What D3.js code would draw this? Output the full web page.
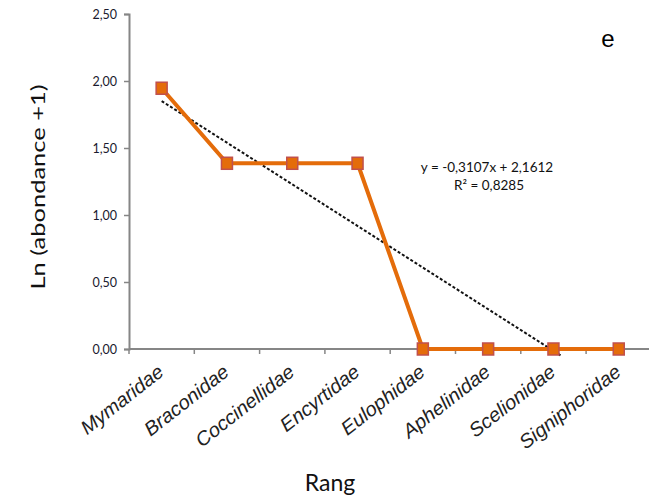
<!DOCTYPE html>
<html>
<head>
<meta charset="utf-8">
<script src="https://cdn.jsdelivr.net/npm/d3@7"></script>
<style>
  body { margin: 0; background: #fff; }
  svg { display: block; }
</style>
</head>
<body>
<div id="chart"></div>
<script>
// data
var families = ["Mymaridae", "Braconidae", "Coccinellidae", "Encyrtidae",
                "Eulophidae", "Aphelinidae", "Scelionidae", "Signiphoridae"];
var lnAbundance = [1.946, 1.386, 1.386, 1.386, 0, 0, 0, 0];
var yTicks = [0, 0.5, 1, 1.5, 2, 2.5];
var trendSlope = -0.3107, trendIntercept = 2.1612;
var trendLabel = "y = -0,3107x + 2,1612";
var r2Label = "R\u00b2 = 0,8285";

var W = 649, H = 498;
var margin = {top: 14, left: 129};
var plotH = 335;
var stretch = 1.15; // the source picture looks a bit stretched sideways

var svg = d3.select("#chart").append("svg")
  .attr("width", W)
  .attr("height", H);

var x = d3.scaleBand()
  .domain(families)
  .range([margin.left, margin.left + 8 * 65.3]);

var y = d3.scaleLinear()
  .domain([0, 2.5])
  .range([margin.top + plotH, margin.top]);

var fmt = function(v) { return d3.format(".2f")(v).replace(".", ","); };

// y axis
var yAxis = svg.append("g")
  .attr("transform", "translate(" + margin.left + ",0)")
  .call(d3.axisLeft(y).tickValues(yTicks).tickFormat(fmt).tickSize(5).tickPadding(7));
yAxis.select(".domain").attr("stroke", "#868686").attr("stroke-width", 2);
yAxis.selectAll(".tick line").attr("stroke", "#868686").attr("stroke-width", 1.5);
yAxis.selectAll(".tick text")
  .attr("fill", "#1a1a2e")
  .style("font-family", "Lato, 'Open Sans', sans-serif")
  .style("font-size", "12.5px");

// x axis: ticks between categories (Excel style)
var xAxisG = svg.append("g")
  .attr("transform", "translate(0," + y(0) + ")");
xAxisG.append("line")
  .attr("x1", margin.left).attr("x2", W)
  .attr("stroke", "#868686").attr("stroke-width", 2);
var bounds = d3.range(families.length + 1).map(function(i) {
  return x.range()[0] + i * x.step();
});
xAxisG.selectAll(".xt").data(bounds).enter().append("line")
  .attr("x1", function(d) { return d; }).attr("x2", function(d) { return d; })
  .attr("y1", 0).attr("y2", 5)
  .attr("stroke", "#868686").attr("stroke-width", 1.5);

xAxisG.selectAll(".xl").data(families).enter().append("text")
  .attr("transform", function(d) {
    return "translate(" + (x(d) + x.bandwidth() / 2 - 5) + ",14) scale(" + stretch + ",1) rotate(-42) skewX(-9)";
  })
  .attr("text-anchor", "end")
  .attr("dy", "0.72em")
  .attr("fill", "#222")
  .style("font-family", "'Liberation Sans', Arial, sans-serif")
  .style("font-style", "italic")
  .style("font-size", "18.5px")
  .text(function(d) { return d; });

// trendline (linear fit on rank 1..8), clipped just below zero like Excel
var xr = function(i) { return x(families[0]) + x.bandwidth() / 2 + (i - 1) * x.step(); };
var tEnd = (trendIntercept + 0.05) / -trendSlope;
svg.append("line")
  .attr("x1", xr(1)).attr("y1", y(trendSlope * 1 + trendIntercept))
  .attr("x2", xr(tEnd)).attr("y2", y(trendSlope * tEnd + trendIntercept))
  .attr("stroke", "#111")
  .attr("stroke-width", 2)
  .attr("stroke-dasharray", "3,2");

// series line
var line = d3.line()
  .x(function(d, i) { return x(families[i]) + x.bandwidth() / 2; })
  .y(function(d) { return y(d); });

svg.append("path")
  .datum(lnAbundance)
  .attr("d", line)
  .attr("fill", "none")
  .attr("stroke", "#E46C0A")
  .attr("stroke-width", 4)
  .attr("stroke-linejoin", "round");

svg.selectAll(".mk").data(lnAbundance).enter().append("rect")
  .attr("x", function(d, i) { return x(families[i]) + x.bandwidth() / 2 - 5.5; })
  .attr("y", function(d) { return y(d) - 6; })
  .attr("width", 11).attr("height", 12)
  .attr("fill", "#E46C0A")
  .attr("stroke", "#C0504D")
  .attr("stroke-width", 1.5);

// trend equation
svg.append("text")
  .attr("x", 487).attr("y", 172)
  .attr("text-anchor", "middle")
  .attr("fill", "#111")
  .style("font-family", "Lato, sans-serif")
  .style("font-size", "13.5px")
  .text(trendLabel);
svg.append("text")
  .attr("x", 489).attr("y", 190)
  .attr("text-anchor", "middle")
  .attr("fill", "#111")
  .style("font-family", "Lato, sans-serif")
  .style("font-size", "13.5px")
  .text(r2Label);

// axis titles
svg.append("text")
  .attr("transform", "translate(45,187) rotate(-90)")
  .attr("text-anchor", "middle")
  .attr("fill", "#111")
  .attr("textLength", 205)
  .attr("lengthAdjust", "spacingAndGlyphs")
  .style("font-family", "Lato, sans-serif")
  .style("font-size", "20px")
  .text("Ln (abondance  +1)");

svg.append("text")
  .attr("x", 330).attr("y", 491)
  .attr("text-anchor", "middle")
  .attr("fill", "#111")
  .style("font-family", "Lato, sans-serif")
  .style("font-size", "23px")
  .text("Rang");

svg.append("text")
  .attr("x", 608).attr("y", 47)
  .attr("text-anchor", "middle")
  .attr("fill", "#000")
  .style("font-family", "'Liberation Sans', Arial, sans-serif")
  .style("font-size", "24px")
  .text("e");
</script>
</body>
</html>
